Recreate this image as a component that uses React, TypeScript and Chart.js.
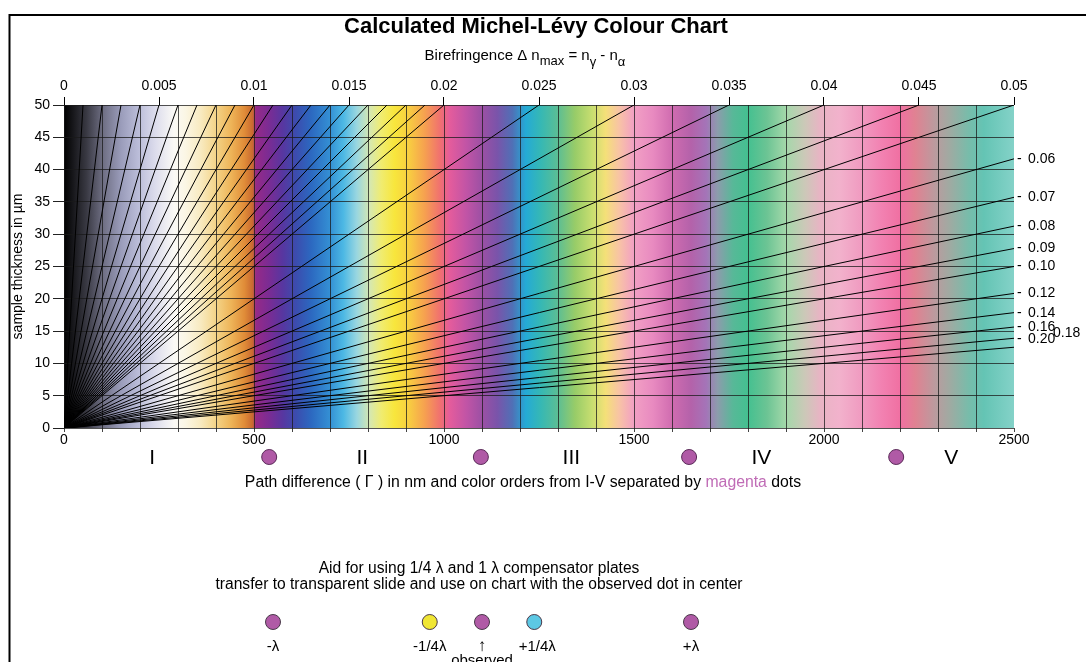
import React, { useEffect, useRef } from 'react';
import { Chart, registerables } from 'chart.js';

Chart.register(...registerables);

const W = 1086;
const H = 662;
const FONT = '"Liberation Sans", Arial, Helvetica, sans-serif';

// Birefringence lines ending on the top edge (t = 50 µm)
const birefringenceTop = [
  0.001, 0.002, 0.003, 0.004, 0.005, 0.006, 0.007, 0.008, 0.009, 0.01,
  0.011, 0.012, 0.013, 0.014, 0.015, 0.016, 0.017, 0.018, 0.019, 0.02,
  0.025, 0.03, 0.035, 0.04, 0.045, 0.05,
];
// Birefringence lines ending on the right edge (Γ = 2500 nm)
const birefringenceRight = [0.06, 0.07, 0.08, 0.09, 0.1, 0.12, 0.14, 0.16, 0.18, 0.2];
const rightLabels = ['0.06', '0.07', '0.08', '0.09', '0.10', '0.12', '0.14', '0.16', '0.18', '0.20'];

const topTickLabels = ['0', '0.005', '0.01', '0.015', '0.02', '0.025', '0.03', '0.035', '0.04', '0.045', '0.05'];
const pathTickLabels = [0, 500, 1000, 1500, 2000, 2500];

// colour orders
const orderBoundaries = [540, 1097, 1645, 2190];
const orderNames = ['I', 'II', 'III', 'IV', 'V'];
const orderNamePositions = [232, 785, 1335, 1835, 2335];

// compensator aid (offsets in nm around the observed colour)
const aidObserved = 1100;
const aidOffsets = [-550, -137.5, 0, 137.5, 550];
const aidLabels = ['-λ', '-1/4λ', '↑', '+1/4λ', '+λ'];
const aidColors = ['#b05aa6', '#f0e634', '#b05aa6', '#5cc8e4', '#b05aa6'];

// interference colours along path difference (nm)
const colorStopNm = [
  0, 25, 60, 100, 150, 195, 240, 290, 320, 360, 400, 440, 475, 497, 505, 540, 575, 610, 650, 700,
  735, 770, 805, 835, 870, 905, 950, 990, 1015, 1060, 1100, 1140, 1180, 1215, 1255, 1300, 1345, 1390,
  1425, 1460, 1500, 1550, 1600, 1650, 1690, 1720, 1760, 1800, 1850, 1900, 1950, 1990, 2040, 2100,
  2150, 2200, 2240, 2290, 2330, 2380, 2420, 2500,
];
const colorStopHex = [
  '#000000', '#18181c', '#3a3a44', '#6c6c80', '#9a9cba', '#babcd8', '#dcdcec', '#fbfaf6', '#fbf6e4',
  '#f8eac0', '#f4d488', '#eeb458', '#e08c38', '#c86830', '#962a88', '#7a2c94', '#5836a0', '#3c4cae',
  '#2c68c0', '#3490d4', '#4cb8e4', '#98d6e0', '#d6e8b0', '#f0ec70', '#f8e63c', '#f8d040', '#f6a050',
  '#f07070', '#e45c9c', '#c054a6', '#9c50a4', '#7a54aa', '#5070b6', '#24aad6', '#36b8b4', '#5cbe94',
  '#98cc68', '#c8de70', '#f4e078', '#f8c4a4', '#f2a0c4', '#e88ac0', '#d06cb0', '#b462aa', '#a474b8',
  '#8c9cac', '#58b898', '#44c090', '#6cc494', '#a4d8aa', '#ccc8b8', '#e8b4c4', '#f2b2cc', '#f09ac0',
  '#f282b2', '#f070a2', '#e08292', '#bc9a9e', '#a0aaa2', '#78bcaa', '#64c4b4', '#84d2c8',
];

const GRID = 'rgba(25,25,25,0.75)';

const backgroundPlugin = {
  id: 'mlBackground',
  beforeDraw(chart: any) {
    const { ctx, chartArea: a, scales } = chart;
    const xs = scales.x;
    const x0 = xs.getPixelForValue(0);
    const x1 = xs.getPixelForValue(2500);
    const g = ctx.createLinearGradient(x0, 0, x1, 0);
    colorStopNm.forEach((nm, i) => g.addColorStop(nm / 2500, colorStopHex[i]));
    ctx.save();
    ctx.fillStyle = '#ffffff';
    ctx.fillRect(0, 0, chart.width, chart.height);
    ctx.fillStyle = g;
    ctx.fillRect(a.left, a.top, a.right - a.left, a.bottom - a.top);
    ctx.restore();
  },
};

function drawRuns(ctx: any, runs: { t: string; font: string; color: string; dy?: number }[], cx: number, baseline: number) {
  let total = 0;
  runs.forEach((r) => {
    ctx.font = r.font;
    total += ctx.measureText(r.t).width;
  });
  let x = cx - total / 2;
  ctx.textAlign = 'left';
  ctx.textBaseline = 'alphabetic';
  runs.forEach((r) => {
    ctx.font = r.font;
    ctx.fillStyle = r.color;
    ctx.fillText(r.t, x, baseline + (r.dy || 0));
    x += ctx.measureText(r.t).width;
  });
}

const overlayPlugin = {
  id: 'mlOverlay',
  afterDraw(chart: any) {
    const { ctx, scales, chartArea: a } = chart;
    const xs = scales.x;
    const ys = scales.y;
    ctx.save();

    // frame
    ctx.strokeStyle = '#000';
    ctx.lineWidth = 2;
    ctx.beginPath();
    ctx.moveTo(9.5, H + 2);
    ctx.lineTo(9.5, 15);
    ctx.lineTo(W + 2, 15);
    ctx.stroke();

    // title
    ctx.fillStyle = '#000';
    ctx.font = `bold 22px ${FONT}`;
    ctx.textAlign = 'center';
    ctx.textBaseline = 'alphabetic';
    ctx.fillText('Calculated Michel-Lévy Colour Chart', 536, 33);

    // subtitle with subscripts
    const f = `15px ${FONT}`;
    const fs = `13px ${FONT}`;
    drawRuns(
      ctx,
      [
        { t: 'Birefringence Δ n', font: f, color: '#000' },
        { t: 'max', font: fs, color: '#000', dy: 5 },
        { t: ' = n', font: f, color: '#000' },
        { t: 'γ', font: fs, color: '#000', dy: 6 },
        { t: ' - n', font: f, color: '#000' },
        { t: 'α', font: fs, color: '#000', dy: 6 },
      ],
      525,
      60
    );

    // right-hand birefringence labels
    ctx.font = `14px ${FONT}`;
    ctx.fillStyle = '#000';
    ctx.textAlign = 'left';
    ctx.textBaseline = 'middle';
    birefringenceRight.forEach((dn, i) => {
      const t = 2500 / (1000 * dn);
      let y = ys.getPixelForValue(t);
      let x = a.right + 14;
      const lbl = rightLabels[i];
      if (lbl === '0.20') y -= 8;
      if (lbl === '0.18') {
        x += 25;
        y -= 5;
      } else {
        ctx.fillText('-', a.right + 3, y);
      }
      ctx.fillText(lbl, x, y);
    });

    // order separators
    orderBoundaries.forEach((nm) => {
      const x = xs.getPixelForValue(nm);
      ctx.beginPath();
      ctx.arc(x, 457, 7.5, 0, Math.PI * 2);
      ctx.fillStyle = '#b05aa6';
      ctx.fill();
      ctx.lineWidth = 1;
      ctx.strokeStyle = '#5a2a58';
      ctx.stroke();
    });
    ctx.font = `21px ${FONT}`;
    ctx.fillStyle = '#000';
    ctx.textAlign = 'center';
    ctx.textBaseline = 'alphabetic';
    orderNames.forEach((n, i) => {
      ctx.fillText(n, xs.getPixelForValue(orderNamePositions[i]), 464);
    });

    // axis caption
    const fc = `15.8px ${FONT}`;
    drawRuns(
      ctx,
      [
        { t: 'Path difference ( Γ ) in nm and color orders from I-V separated by ', font: fc, color: '#000' },
        { t: 'magenta', font: fc, color: '#c06cb6' },
        { t: ' dots', font: fc, color: '#000' },
      ],
      523,
      487
    );

    // aid section
    const cx = xs.getPixelForValue(aidObserved);
    ctx.font = `15.6px ${FONT}`;
    ctx.fillStyle = '#000';
    ctx.textAlign = 'center';
    ctx.fillText('Aid for using 1/4 λ and 1 λ compensator plates', cx - 3, 573);
    ctx.fillText('transfer to transparent slide and use on chart with the observed dot in center', cx - 3, 589);

    aidOffsets.forEach((off, i) => {
      const x = xs.getPixelForValue(aidObserved + off);
      ctx.beginPath();
      ctx.arc(x, 622, 7.5, 0, Math.PI * 2);
      ctx.fillStyle = aidColors[i];
      ctx.fill();
      ctx.lineWidth = 1;
      ctx.strokeStyle = '#4a3a4a';
      ctx.stroke();
      ctx.fillStyle = '#000';
      ctx.font = i === 2 ? `17px ${FONT}` : `15px ${FONT}`;
      ctx.textAlign = 'center';
      ctx.fillText(aidLabels[i], x + (i === 3 ? 3 : 0), 651);
    });
    ctx.font = `15px ${FONT}`;
    ctx.fillText('observed', cx, 665);

    ctx.restore();
  },
};

export default function App() {
  const ref = useRef<HTMLCanvasElement>(null);
  useEffect(() => {
    const allDn = [...birefringenceTop, ...birefringenceRight];
    const chart = new Chart(ref.current as HTMLCanvasElement, {
      type: 'scatter',
      data: {
        datasets: allDn.map((dn) => ({
          label: String(dn),
          data: [
            { x: 0, y: 0 },
            { x: dn * 1000 * 50, y: 50 },
          ],
          showLine: true,
          borderColor: '#000',
          borderWidth: 1,
          pointRadius: 0,
          pointHoverRadius: 0,
          fill: false,
          tension: 0,
        })),
      },
      options: {
        animation: false,
        responsive: false,
        devicePixelRatio: 1,
        events: [],
        layout: { padding: { left: 10, right: 72, top: 77, bottom: 212 } },
        plugins: {
          legend: { display: false },
          tooltip: { enabled: false },
          title: { display: false },
        },
        scales: {
          x: {
            type: 'linear',
            position: 'bottom',
            min: 0,
            max: 2500,
            ticks: {
              stepSize: 100,
              autoSkip: false,
              maxRotation: 0,
              minRotation: 0,
              padding: 0,
              color: '#000',
              font: { family: FONT, size: 14 },
              callback: (v: any) => (pathTickLabels.includes(Number(v)) ? String(v) : ''),
            },
            grid: {
              color: (c: any) => (c.tick && c.tick.value === 2500 ? 'rgba(0,0,0,0)' : GRID),
              lineWidth: 1,
              tickLength: 4,
              tickColor: '#444',
            },
            border: { display: false },
            afterFit: (s: any) => {
              s.height = 22;
            },
          },
          x2: {
            type: 'linear',
            position: 'top',
            min: 0,
            max: 0.05,
            ticks: {
              stepSize: 0.005,
              autoSkip: false,
              maxRotation: 0,
              minRotation: 0,
              padding: 2,
              color: '#000',
              font: { family: FONT, size: 14 },
              callback: (_v: any, i: number) => topTickLabels[i] ?? '',
            },
            grid: { drawOnChartArea: false, tickLength: 8, tickColor: '#000', lineWidth: 1 },
            border: { display: false },
            afterFit: (s: any) => {
              s.height = 28;
            },
          },
          y: {
            type: 'linear',
            position: 'left',
            min: 0,
            max: 50,
            ticks: {
              stepSize: 5,
              padding: 3,
              color: '#000',
              font: { family: FONT, size: 14 },
            },
            grid: { color: GRID, lineWidth: 1, tickLength: 11, tickColor: '#222' },
            border: { display: false },
            title: {
              display: true,
              text: 'sample thickness in µm',
              color: '#000',
              font: { family: FONT, size: 14 },
              padding: 0,
            },
            afterFit: (s: any) => {
              s.width = 54;
            },
          },
        },
      },
      plugins: [backgroundPlugin, overlayPlugin],
    } as any);
    return () => chart.destroy();
  }, []);

  return (
    <div style={{ position: 'absolute', left: 0, top: 0, width: W, height: H, background: '#fff' }}>
      <canvas ref={ref} width={W} height={H} style={{ display: 'block', width: W, height: H }} />
    </div>
  );
}
